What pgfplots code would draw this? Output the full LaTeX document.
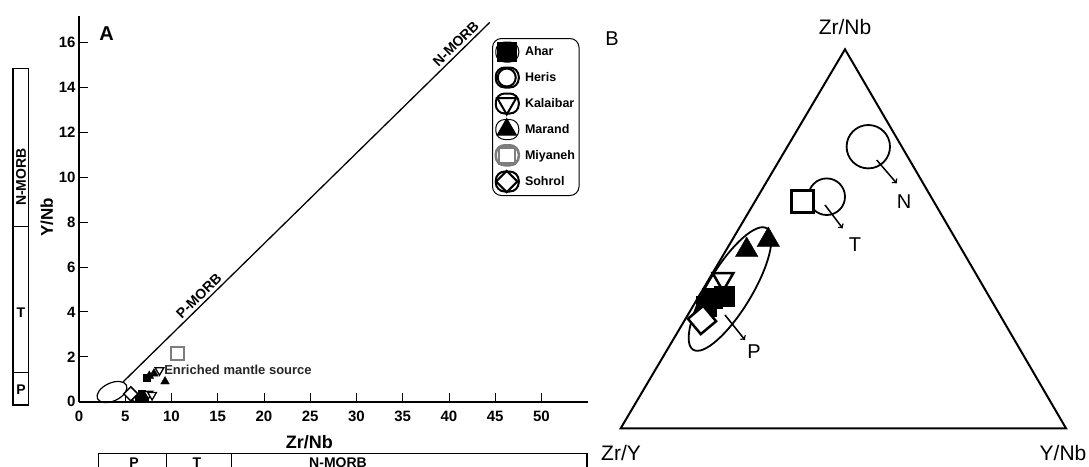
\documentclass[border=0pt]{standalone}
\usepackage{pgfplots}
\pgfplotsset{compat=1.18}
\usepackage{fontspec}
\setmainfont{Liberation Sans}
\newcommand{\fs}[1]{\fontsize{#1}{#1}\selectfont}
\definecolor{miy}{RGB}{125,125,125}
\begin{document}
\begin{tikzpicture}
% ---------- frame axis in pixel units (panel B and side bars) ----------
\begin{axis}[at={(0pt,0pt)}, anchor=north west, scale only axis,
  width=1089pt, height=466pt, xmin=0, xmax=1089, ymin=0, ymax=466,
  y dir=reverse, axis lines=none, clip=true]
% left vertical bar
\draw[line width=1.4pt] (axis cs:13,68.3) rectangle (axis cs:28.3,405);
\draw[line width=1.4pt] (axis cs:13,226.7) -- (axis cs:28.3,226.7);
\draw[line width=1.4pt] (axis cs:13,372.7) -- (axis cs:28.3,372.7);
\node[rotate=90, font=\bfseries\fs{14}] at (axis cs:21,177) {N-MORB};
\node[font=\bfseries\fs{14}] at (axis cs:21,313) {T};
\node[font=\bfseries\fs{14}] at (axis cs:21,390) {P};
% bottom horizontal bar
\draw[line width=1.4pt] (axis cs:98.3,475) -- (axis cs:98.3,453.5) -- (axis cs:587,453.5) -- (axis cs:587,475);
\draw[line width=1.4pt] (axis cs:166.7,453.5) -- (axis cs:166.7,475);
\draw[line width=1.4pt] (axis cs:231.7,453.5) -- (axis cs:231.7,475);
\node[anchor=base, font=\bfseries\fs{14}] at (axis cs:134,467) {P};
\node[anchor=base, font=\bfseries\fs{14}] at (axis cs:197,467) {T};
\node[anchor=base, font=\bfseries\fs{14}] at (axis cs:338,467) {N-MORB};
% panel A ellipse
\draw[line width=1.2pt, rotate around={25:(axis cs:112,392)}] (axis cs:112,392) ellipse [x radius=16pt, y radius=9pt];
% ---------- panel B ----------
\node[font=\fs{20}] at (axis cs:612,39) {B};
\node[font=\fs{21}] at (axis cs:845,27) {Zr/Nb};
\node[font=\fs{21}] at (axis cs:621,453) {Zr/Y};
\node[font=\fs{21}] at (axis cs:1063,453) {Y/Nb};
\addplot[black, line width=2pt, line join=miter] coordinates {(845,49.3) (1066,428.3) (620.7,428.3) (845,49.3) (1066,428.3)};
% P field ellipse
\draw[line width=1.8pt, rotate around={58.8:(axis cs:730,289)}] (axis cs:730,289) ellipse [x radius=71pt, y radius=22pt];
% Heris circles
\addplot[only marks, mark=o, mark size=21.7, line width=1.8pt, black] coordinates {(868.3,146.7)};
\addplot[only marks, mark=o, mark size=18.3, line width=1.8pt, black] coordinates {(826.7,196.7)};
% square
\addplot[only marks, mark=square*, mark size=11, line width=3pt, black, fill=white] coordinates {(802.3,201.7)};
% Marand
\addplot[only marks, mark=triangle*, mark size=13, black] coordinates {(746.7,250) (768.3,240)};
% Kalaibar
\addplot[only marks, mark=triangle*, mark size=12, line width=2.5pt, black, fill=white, mark options={rotate=180}] coordinates {(723,279)};
% Ahar
\addplot[only marks, mark=square*, mark size=10, black] coordinates {(712,298) (724,296) (706,306)};
% Sohrol
\addplot[only marks, mark=square*, mark size=10, line width=2.5pt, black, fill=white, mark options={rotate=40}] coordinates {(702,320)};
% arrows and labels
\draw[->, line width=1.5pt] (axis cs:876.7,160) -- (axis cs:896.7,183.3);
\draw[->, line width=1.5pt] (axis cs:825,205) -- (axis cs:842.7,228.3);
\draw[->, line width=1.5pt] (axis cs:725,315) -- (axis cs:745,340);
\node[font=\fs{20}] at (axis cs:904,202) {N};
\node[font=\fs{20}] at (axis cs:855,245) {T};
\node[font=\fs{20}] at (axis cs:754,352) {P};
\end{axis}
% ---------- panel A ----------
\begin{axis}[at={(79pt,-401.7pt)}, anchor=south west, scale only axis,
  width=508.75pt, height=386pt, xmin=0, xmax=55, ymin=0, ymax=17.2,
  axis lines=left, axis line style={-, line width=2.2pt},
  xtick={0,5,...,50}, ytick={0,2,...,16},
  tick align=inside, major tick length=9pt,
  every tick/.style={black, line width=1pt},
  ticklabel style={font=\bfseries\fs{15}},
  xticklabel style={yshift=-6pt},
  /pgf/number format/assume math mode=true,
  clip=false,
  legend cell align=left,
  legend style={at={(0.8118,0.9422)}, anchor=north west, draw=black, line width=1pt,
    rounded corners=9pt, font=\bfseries\fs{12.5}, inner xsep=2pt, inner ysep=3pt, row sep=4pt,
    /tikz/every odd column/.append style={column sep=3pt}},
  legend image code/.code={\path (0pt,-10pt) rectangle (23pt,10pt);
    \draw[sharp corners,#1] plot coordinates {(11pt,0pt)};}]
\addlegendimage{mark=square*, mark size=9.5, black}
\addlegendentry{Ahar}
\addlegendimage{mark=o, mark size=9, line width=2pt, black}
\addlegendentry{Heris}
\addlegendimage{mark=triangle, mark size=11, line width=2pt, black, mark options={rotate=180}}
\addlegendentry{Kalaibar}
\addlegendimage{mark=triangle*, mark size=11, black}
\addlegendentry{Marand}
\addlegendimage{mark=square, mark size=8, line width=2.5pt, miy}
\addlegendentry{Miyaneh}
\addlegendimage{mark=square, mark size=7.5, line width=2pt, black, mark options={rotate=45}}
\addlegendentry{Sohrol}
% reference line
\addplot[black, line width=1.3pt, forget plot] coordinates {(4.76,0.88) (44.4,16.9)};
\path (axis cs:4.76,0.88) -- (axis cs:44.4,16.9)
  node[pos=0.223, sloped, above, font=\bfseries\fs{14}] {P-MORB}
  node[pos=0.924, sloped, above, font=\bfseries\fs{14}] {N-MORB};
% data
\addplot[only marks, mark=o, mark size=3.5, line width=1.3pt, black, forget plot] coordinates {(6.1,0.15)};
\addplot[only marks, mark=square*, mark size=3.5, black, forget plot] coordinates {(6.4,0.2) (6.8,0.35) (7.1,0.12) (7.3,1.05)};
\addplot[only marks, mark=triangle*, mark size=5, black, forget plot] coordinates {(7.6,1.15) (8.1,1.25) (9.3,0.9)};
\addplot[only marks, mark=triangle*, mark size=5, line width=1.3pt, black, fill=white, mark options={rotate=180}, forget plot] coordinates {(8.7,1.4) (7.5,0.35) (7.9,0.3)};
\addplot[only marks, mark=square*, mark size=5, line width=1.5pt, black, fill=white, mark options={rotate=45}, forget plot] coordinates {(5.6,0.35)};
\addplot[only marks, mark=square, mark size=6.5, line width=2pt, miy, forget plot] coordinates {(10.6,2.15)};
\node[anchor=west, inner sep=0pt, font=\bfseries\fs{13}, text=black!85] at (axis cs:9.2,1.41) {Enriched mantle source};
% labels
\node[rotate=90, font=\bfseries\fs{17}] at (axis cs:-3.46,8.23) {Y/Nb};
\node[font=\bfseries\fs{18}] at (axis cs:24.9,-1.8) {Zr/Nb};
\node[font=\bfseries\fs{20}] at (axis cs:2.99,16.4) {A};
\end{axis}
\pgfresetboundingbox
\path[use as bounding box] (0pt,0pt) rectangle (1089pt,-466pt);
\end{tikzpicture}
\end{document}
